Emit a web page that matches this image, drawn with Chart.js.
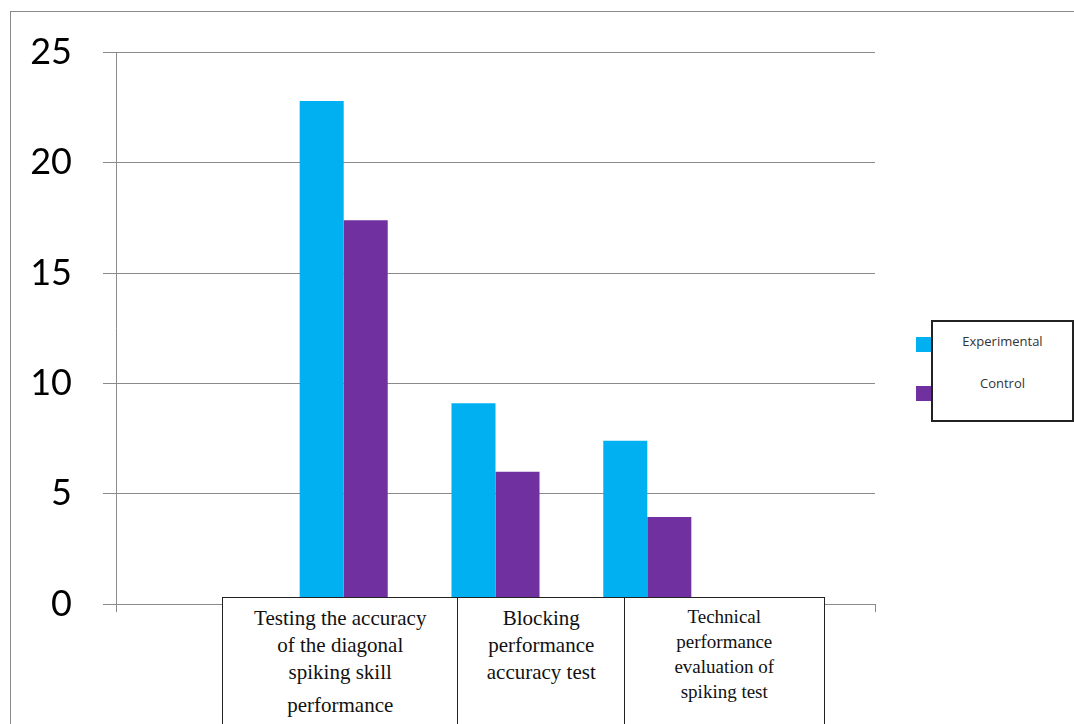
<!DOCTYPE html>
<html lang="en">

<head>
    <meta charset="UTF-8">
    <title>Spiking tests</title>
    <script src="https://cdn.jsdelivr.net/npm/chart.js"></script>
    <style>
        html, body {
            margin: 0;
            padding: 0;
            background: #fff;
        }
        .wrap {
            position: relative;
            width: 1074px;
            height: 724px;
            overflow: hidden;
        }
        .frame {
            position: absolute;
            left: 10px;
            top: 11px;
            width: 1100px;
            height: 800px;
            border-left: 1.5px solid #8a8a8a;
            border-top: 1.5px solid #8a8a8a;
        }
        .cell {
            position: absolute;
            top: 597px;
            height: 140px;
            box-sizing: border-box;
            border: 1.5px solid #222;
            background: #fff;
            font-family: "Liberation Serif", serif;
            font-size: 21px;
            line-height: 27px;
            text-align: center;
            color: #111;
            padding-top: 7px;
        }
        .legend {
            position: absolute;
            left: 931px;
            top: 320px;
            width: 143px;
            height: 102px;
            box-sizing: border-box;
            border: 2px solid #222;
            background: #fff;
            font-family: "Open Sans", sans-serif;
            font-size: 13px;
            color: #333;
        }
        .legend span {
            position: absolute;
            left: 0;
            width: 139px;
            text-align: center;
        }
        .swatch {
            position: absolute;
            left: 916px;
            width: 15px;
            height: 15px;
        }
    </style>
</head>

<body>
    <div class="wrap" id="wrap">
        <div class="frame"></div>
        <canvas id="grafico"></canvas>
    </div>
    <script>
        // datos
        const categorias = [
            '',
            ['Testing the accuracy', 'of the diagonal', 'spiking skill', 'performance'],
            ['Blocking', 'performance', 'accuracy test'],
            ['Technical', 'performance', 'evaluation of', 'spiking test'],
            ''
        ];
        const series = ['Experimental', 'Control'];
        const experimental = [null, 22.8, 9.1, 7.4, null];
        const control = [null, 17.4, 6.0, 3.95, null];
        const yTicks = [0, 5, 10, 15, 20, 25];
        const colores = ['#00B0F0', '#7030A0'];

        const canvas = document.getElementById('grafico');
        canvas.style.position = 'absolute';
        canvas.style.left = '0px';
        canvas.style.top = '0px';
        canvas.style.width = '1074px';
        canvas.style.height = '724px';

        new Chart(canvas.getContext('2d'), {
            type: 'bar',
            data: {
                labels: categorias,
                datasets: [
                    { label: series[0], data: experimental, backgroundColor: colores[0] },
                    { label: series[1], data: control, backgroundColor: colores[1] }
                ]
            },
            options: {
                responsive: false,
                animation: false,
                layout: { padding: { top: 49, right: 199, left: 0, bottom: 0 } },
                datasets: {
                    bar: { categoryPercentage: 0.58, barPercentage: 1.0 }
                },
                plugins: {
                    legend: { display: false },
                    tooltip: { enabled: false }
                },
                scales: {
                    x: {
                        grid: {
                            offset: true,
                            drawOnChartArea: false,
                            drawTicks: true,
                            tickLength: 8,
                            color: '#8a8a8a'
                        },
                        border: { color: '#8a8a8a' },
                        ticks: { display: false },
                        afterFit: s => { s.height = 120; }
                    },
                    y: {
                        min: 0,
                        max: 25,
                        afterBuildTicks: s => { s.ticks = yTicks.map(v => ({ value: v })); },
                        grid: { color: '#8a8a8a', tickLength: 13 },
                        border: { color: '#8a8a8a' },
                        ticks: {
                            color: '#000',
                            padding: 31,
                            font: { family: 'Lato', size: 36 }
                        },
                        afterFit: s => { s.width = 116; }
                    }
                }
            }
        });

        // cajas de etiquetas bajo el eje x
        const wrap = document.getElementById('wrap');
        const bordes = [222, 457, 624, 823];
        categorias.filter(c => c !== '').forEach((c, i) => {
            const d = document.createElement('div');
            d.className = 'cell';
            d.style.left = bordes[i] + 'px';
            d.style.width = (bordes[i + 1] - bordes[i] + 1.5) + 'px';
            if (i === 2) {
                d.style.fontSize = '19px';
                d.style.lineHeight = '25px';
                d.style.paddingTop = '6px';
            }
            d.innerHTML = c.map((l, j) => j === 3 && i === 0
                ? '<div style="margin-top:6px">' + l + '</div>'
                : l).join('<br>');
            wrap.appendChild(d);
        });

        // leyenda
        const leg = document.createElement('div');
        leg.className = 'legend';
        series.forEach((s, i) => {
            const t = document.createElement('span');
            t.textContent = s;
            t.style.top = (i === 0 ? 10 : 52) + 'px';
            leg.appendChild(t);
            const sw = document.createElement('div');
            sw.className = 'swatch';
            sw.style.top = (i === 0 ? 337 : 386) + 'px';
            sw.style.background = colores[i];
            wrap.appendChild(sw);
        });
        wrap.appendChild(leg);
    </script>
</body>

</html>
